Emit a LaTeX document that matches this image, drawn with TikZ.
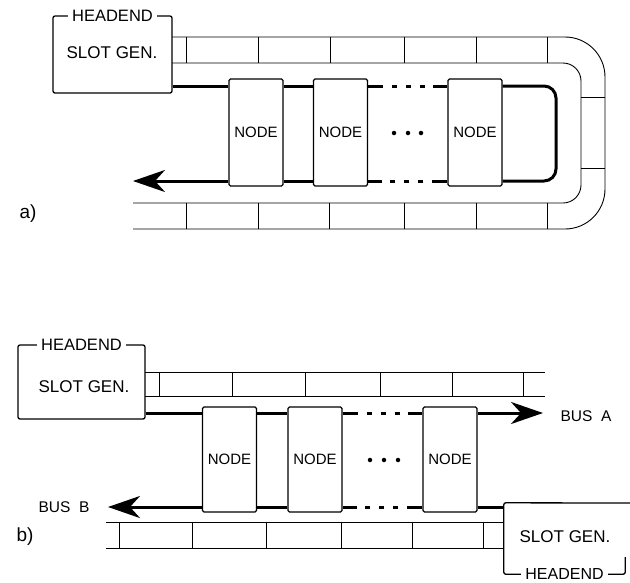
\documentclass[tikz,border=0pt]{standalone}
\usepackage{fontspec}
\setmainfont{Liberation Sans}
\usetikzlibrary{arrows.meta}
\begin{document}
\begin{tikzpicture}[x=1pt,y=-1pt,
 wall/.style={line width=0.9pt},
 bus/.style={line width=3pt},
 nodebox/.style={draw, line width=1.3pt, rounded corners=1.5pt, minimum width=54pt, minimum height=107pt, inner sep=0pt, font=\fontsize{15}{15}\selectfont},
 hbox/.style={draw, line width=1.3pt, rounded corners=2pt, inner sep=0pt},
 hlabel/.style={fill=white, inner xsep=4pt, inner ysep=1pt, font=\fontsize{16.5}{16}\selectfont},
 sgtext/.style={font=\fontsize{17}{17}\selectfont},
 buslabel/.style={font=\fontsize{15.5}{15}\selectfont},
 partlabel/.style={font=\fontsize{19}{19}\selectfont},
 ddot/.style={circle, fill, inner sep=0pt, minimum size=4.5pt},
 gapline/.style={bus, dash pattern=on 15pt off 9pt on 5pt off 9pt on 5pt off 9pt on 5pt off 8pt on 15pt},
 tip/.style={-{Stealth[length=32pt,width=22pt,inset=10pt]}}
]
\useasboundingbox (0,0) rectangle (630,582);

% ================= a) =================
% channel walls
\draw[wall, rounded corners=40pt] (172,37) -- (605,37) -- (605,229) -- (133,229);
\draw[wall, rounded corners=18pt] (172,63) -- (581,63) -- (581,203) -- (133,203);
\foreach \x in {186,258,330,404,476,547} \draw[wall] (\x,37) -- (\x,63);
\foreach \x in {186,258,329,404,476,547} \draw[wall] (\x,203) -- (\x,229);
\foreach \y in {97,168} \draw[wall] (581,\y) -- (605,\y);

% headend
\node[hbox, minimum width=119pt, minimum height=77pt] (hA) at (112.5,54.5) {};
\node[sgtext] (sgA) at (112,53) {SLOT GEN.};
\node[hlabel] (heA) at (hA.north) {HEADEND};

% nodes
\node[nodebox] (a1) at (256,132.5) {NODE};
\node[nodebox] (a2) at (340.5,132.5) {NODE};
\node[nodebox] (a3) at (475,132.5) {NODE};
\node[ddot] (da1) at (394,133) {};
\node[ddot] (da2) at (408,133) {};
\node[ddot] (da3) at (421,133) {};

\coordinate (ya) at (0,86);
\coordinate (yb) at (0,181);
\coordinate (aend) at (133,181);

\draw[bus] (hA.east |- ya) -- (a1.west |- ya);
\draw[bus] (a1.east |- ya) -- (a2.west |- ya);
\draw[gapline] (a2.east |- ya) -- (a3.west |- ya);
\draw[bus, rounded corners=12pt] (a3.east |- ya) -- (556,86) -- (556,181) -- (a3.east |- yb);
\draw[gapline] (a3.west |- yb) -- (a2.east |- yb);
\draw[bus] (a2.west |- yb) -- (a1.east |- yb);
\draw[bus, tip] (a1.west |- yb) -- (aend);

\node[partlabel] (la) at (28,214) {a)};

% ================= b) =================
\draw[wall] (145,372) -- (545,372);
\draw[wall] (145,396) -- (545,396);
\foreach \x in {159,232,305,380,452,523} \draw[wall] (\x,372) -- (\x,396);
\draw[wall] (106,522) -- (504,522);
\draw[wall] (106,548) -- (504,548);
\foreach \x in {119,192,266,341,412,483} \draw[wall] (\x,522) -- (\x,548);

% headend top-left
\node[hbox, minimum width=127pt, minimum height=74pt] (hB) at (81.5,382) {};
\node[sgtext] (sgB) at (84,387) {SLOT GEN.};
\node[hlabel] (heB) at (hB.north) {HEADEND};

% headend bottom-right
\node[inner sep=0pt, minimum width=121pt, minimum height=71pt] (hC) at (564.5,538.5) {};
\draw[line width=1.3pt, rounded corners=2pt] (630,503) -- (hC.north west) -- (hC.south west) -- (hC.south east) -- ++(0,-17);
\node[sgtext] (sgC) at (565,537) {SLOT GEN.};
\node[hlabel, font=\fontsize{16}{16}\selectfont] (heC) at (hC.south) {HEADEND};

% nodes
\node[nodebox, minimum height=105pt] (b1) at (229.5,459.5) {NODE};
\node[nodebox, minimum height=105pt] (b2) at (315,459.5) {NODE};
\node[nodebox, minimum height=105pt] (b3) at (450,459.5) {NODE};
\node[ddot] (db1) at (370,460) {};
\node[ddot] (db2) at (384,460) {};
\node[ddot] (db3) at (398,460) {};

\coordinate (yA) at (0,413);
\coordinate (yB) at (0,507);
\coordinate (Aend) at (543,413);
\coordinate (Bend) at (108,507);

\draw[bus] (hB.east |- yA) -- (b1.west |- yA);
\draw[bus] (b1.east |- yA) -- (b2.west |- yA);
\draw[gapline] (b2.east |- yA) -- (b3.west |- yA);
\draw[bus, tip] (b3.east |- yA) -- (Aend);

\draw[bus] (hC.west |- yB) -- (b3.east |- yB);
\draw[gapline] (b3.west |- yB) -- (b2.east |- yB);
\draw[bus] (b2.west |- yB) -- (b1.east |- yB);
\draw[bus, tip] (b1.west |- yB) -- (Bend);

\node[buslabel, anchor=west] (busA) at (557,416) {BUS\ \ A};
\node[buslabel, anchor=east] (busB) at (93,507) {BUS\ \ B};
\node[partlabel] (lb) at (25,537) {b)};
\end{tikzpicture}
\end{document}
